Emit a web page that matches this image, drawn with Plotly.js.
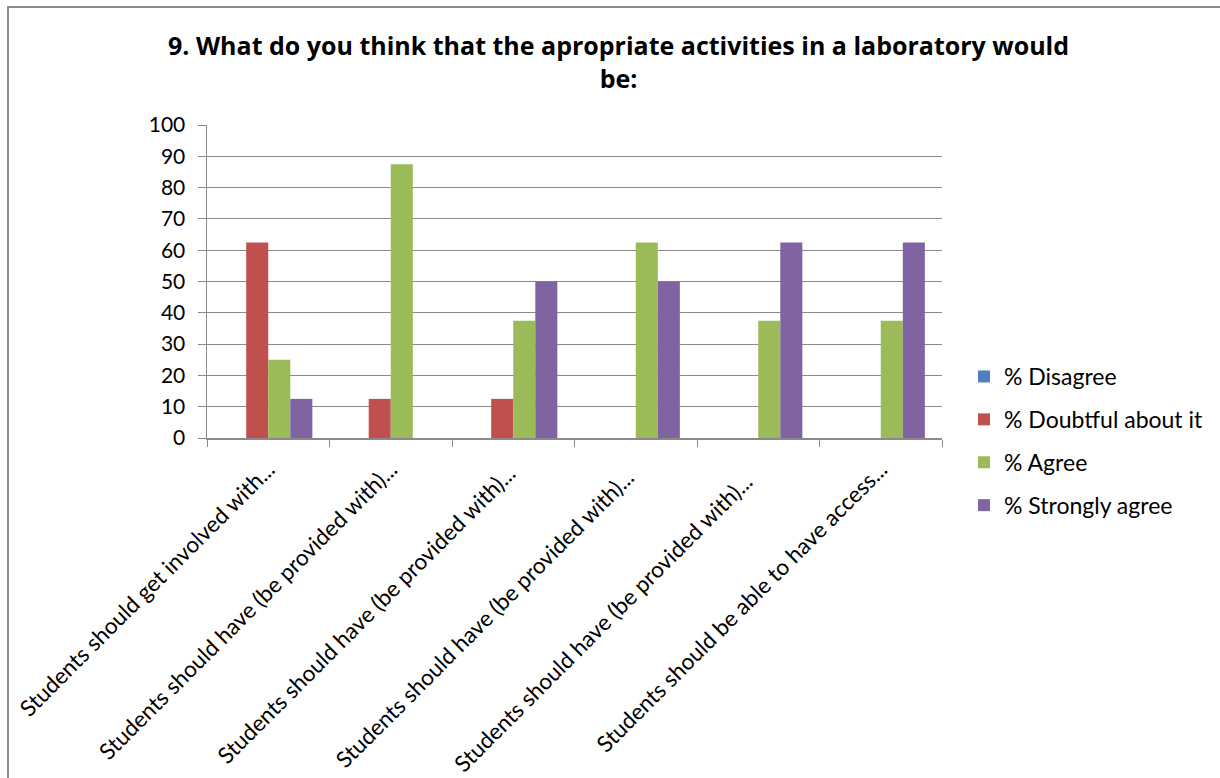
<!DOCTYPE html>
<html>
<head>
<meta charset="utf-8">
<script src="https://cdn.plot.ly/plotly-3.0.1.min.js"></script>
<style>
  html, body { margin: 0; padding: 0; background: #fff; overflow: hidden; }
  #chart { width: 1220px; height: 778px; }
  #frame {
    position: absolute; left: 7px; top: 6px; width: 1300px; height: 900px;
    border-left: 2px solid #8a8a8a; border-top: 2px solid #8a8a8a;
    pointer-events: none;
  }
</style>
</head>
<body>
<div id="chart"></div>
<div id="frame"></div>
<script>
// Survey statements (truncated as shown on the axis)
const categories = [
  "Students should get involved with...",
  "Students should have (be provided with)...",
  "Students should have (be provided with)... ",
  "Students should have (be provided with)...  ",
  "Students should have (be provided with)...   ",
  "Students should be able to have access..."
];

// Percentage of respondents per answer
const disagree       = [0, 0, 0, 0, 0, 0];
const doubtful       = [62.5, 12.5, 12.5, 0, 0, 0];
const agree          = [25, 87.5, 37.5, 62.5, 37.5, 37.5];
const stronglyAgree  = [12.5, 0, 50, 50, 62.5, 62.5];

const seriesNames = ["% Disagree", "% Doubtful about it", "% Agree", "% Strongly agree"];
const seriesColors = ["#4F81BD", "#C0504D", "#9BBB59", "#8064A2"];
const seriesValues = [disagree, doubtful, agree, stronglyAgree];

const yTicks = [0, 10, 20, 30, 40, 50, 60, 70, 80, 90, 100];

const font = "Lato, 'Open Sans', sans-serif";

const traces = seriesValues.map((vals, i) => ({
  type: "bar",
  name: seriesNames[i],
  x: categories,
  y: vals,
  legendgroup: "g" + i,
  marker: { color: seriesColors[i], line: { width: 0 } }
}));

const layout = {
  width: 1220,
  height: 778,
  paper_bgcolor: "#ffffff",
  plot_bgcolor: "#ffffff",
  margin: { l: 207, r: 278, t: 125, b: 340 },
  barmode: "group",
  bargap: 0.28,
  bargroupgap: 0,
  title: {
    text: "<b>9. What do you think that the apropriate activities in a laboratory would<br>be:</b>",
    font: { family: "'Open Sans', sans-serif", size: 25, color: "#000" },
    x: 0.507, xref: "container", xanchor: "center",
    y: 1 - 55 / 778, yref: "container", yanchor: "top"
  },
  xaxis: {
    type: "category",
    tickangle: -45,
    tickson: "boundaries",
    ticks: "outside",
    ticklen: 7,
    tickcolor: "#8a8a8a",
    showline: true,
    linecolor: "#8a8a8a",
    linewidth: 1.5,
    showgrid: false,
    tickfont: { family: font, size: 22.5, color: "#000" },
    ticklabelstandoff: 8,
    fixedrange: true
  },
  yaxis: {
    range: [0, 100],
    tickvals: yTicks,
    ticktext: yTicks.map(String),
    ticks: "outside",
    ticklen: 8,
    tickcolor: "#8a8a8a",
    showline: true,
    linecolor: "#8a8a8a",
    linewidth: 1.5,
    showgrid: true,
    gridcolor: "#8a8a8a",
    gridwidth: 1,
    zeroline: false,
    tickfont: { family: font, size: 21, color: "#000" },
    ticklabelstandoff: 8,
    fixedrange: true
  },
  showlegend: true,
  legend: {
    x: 964 / 1220, xref: "container",
    y: 1 - 355 / 778, yref: "container",
    xanchor: "left", yanchor: "top",
    font: { family: font, size: 23, color: "#000" },
    tracegroupgap: 10,
    itemwidth: 30,
    bgcolor: "rgba(0,0,0,0)"
  }
};

Plotly.newPlot("chart", traces, layout, { displayModeBar: false, staticPlot: true });
</script>
</body>
</html>
